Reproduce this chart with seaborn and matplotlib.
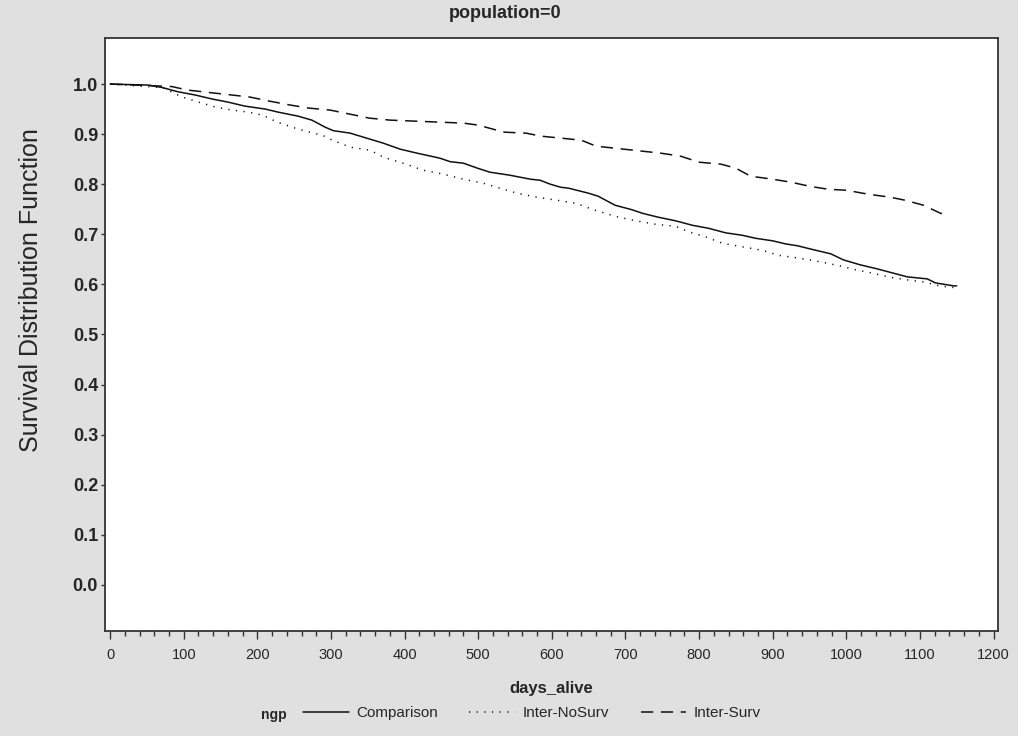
import pandas as pd
import seaborn as sns
import matplotlib.pyplot as plt
from matplotlib.ticker import MultipleLocator

# Survival estimates
comp_days = [0, 52, 71, 91, 116, 139, 160, 183, 211, 228, 255, 274, 292, 303, 326, 353, 371, 394,
             417, 448, 462, 480, 499, 516, 543, 571, 584, 598, 612, 623, 650, 663, 686, 709, 723,
             745, 768, 791, 813, 836, 859, 877, 900, 917, 934, 956, 979, 996, 1019, 1042, 1065,
             1083, 1110, 1121, 1146, 1150]
comp_surv = [1.0, 0.998, 0.993, 0.985, 0.978, 0.970, 0.964, 0.956, 0.950, 0.944, 0.936, 0.928,
             0.914, 0.907, 0.902, 0.890, 0.882, 0.870, 0.862, 0.852, 0.845, 0.842, 0.832, 0.824,
             0.818, 0.810, 0.808, 0.800, 0.794, 0.792, 0.782, 0.776, 0.758, 0.749, 0.742, 0.734,
             0.727, 0.718, 0.712, 0.703, 0.698, 0.692, 0.687, 0.681, 0.677, 0.669, 0.661, 0.649,
             0.639, 0.631, 0.622, 0.615, 0.611, 0.603, 0.597, 0.597]

nosurv_days = [0, 71, 84, 98, 120, 143, 166, 188, 207, 227, 247, 265, 288, 302, 326, 353, 371,
               398, 425, 453, 480, 507, 530, 553, 580, 607, 632, 659, 686, 714, 741, 768, 786,
               809, 832, 859, 886, 908, 938, 965, 988, 1010, 1037, 1060, 1083, 1105, 1124, 1141,
               1150]
nosurv_surv = [1.0, 0.993, 0.984, 0.974, 0.964, 0.954, 0.948, 0.944, 0.938, 0.924, 0.914, 0.906,
               0.898, 0.888, 0.874, 0.868, 0.854, 0.842, 0.828, 0.820, 0.810, 0.802, 0.792, 0.782,
               0.774, 0.768, 0.762, 0.748, 0.736, 0.727, 0.720, 0.716, 0.705, 0.695, 0.682, 0.675,
               0.668, 0.658, 0.652, 0.645, 0.638, 0.630, 0.622, 0.614, 0.609, 0.605, 0.598, 0.594,
               0.594]

surv_days = [0, 84, 105, 166, 190, 216, 245, 270, 299, 352, 380, 480, 500, 535, 565, 585, 640,
             660, 748, 775, 800, 830, 850, 870, 900, 925, 950, 975, 1000, 1030, 1060, 1080, 1105,
             1128, 1135]
surv_surv = [1.0, 0.995, 0.988, 0.978, 0.974, 0.966, 0.958, 0.952, 0.948, 0.932, 0.928, 0.922,
             0.918, 0.904, 0.902, 0.896, 0.888, 0.876, 0.862, 0.856, 0.844, 0.840, 0.832, 0.816,
             0.810, 0.804, 0.796, 0.790, 0.788, 0.780, 0.774, 0.768, 0.758, 0.742, 0.740]

groups = ['Comparison', 'Inter-NoSurv', 'Inter-Surv']

df = pd.concat([
    pd.DataFrame({'days_alive': comp_days, 'survival': comp_surv, 'ngp': groups[0]}),
    pd.DataFrame({'days_alive': nosurv_days, 'survival': nosurv_surv, 'ngp': groups[1]}),
    pd.DataFrame({'days_alive': surv_days, 'survival': surv_surv, 'ngp': groups[2]}),
], ignore_index=True)

sns.set_theme(style='white')
plt.rcParams['font.family'] = ['Liberation Sans', 'DejaVu Sans']

bg = '#e0e0e0'
fig = plt.figure(figsize=(10.18, 7.36), dpi=100, facecolor=bg)
ax = fig.add_axes([0.1031, 0.1427, 0.8772, 0.8057])
ax.set_facecolor('white')

sns.lineplot(data=df, x='days_alive', y='survival', hue='ngp', style='ngp',
             palette={g: '#111111' for g in groups},
             dashes={'Comparison': '', 'Inter-NoSurv': (0.8, 4.2), 'Inter-Surv': (8, 5)},
             estimator=None, sort=False, linewidth=1.1, ax=ax)

ax.set_xlim(-7, 1206)
ax.set_ylim(-0.092, 1.092)
ax.set_yticks([i / 10 for i in range(11)])
ax.set_yticklabels([f'{i / 10:.1f}' for i in range(11)], fontsize=13, fontweight='bold')
ax.set_xticks(range(0, 1201, 100))
ax.set_xticklabels([str(v) for v in range(0, 1201, 100)], fontsize=10.5)
ax.xaxis.set_minor_locator(MultipleLocator(20))
ax.tick_params(axis='x', which='major', direction='out', length=6, width=1, color='#333', pad=6,
               bottom=True)
ax.tick_params(axis='x', which='minor', direction='out', length=3.5, width=1, color='#333',
               bottom=True)
ax.tick_params(axis='y', which='major', direction='out', length=3, width=1, color='#333', pad=2,
               left=True)

for s in ax.spines.values():
    s.set_color('#333333')
    s.set_linewidth(1.3)

ax.set_xlabel('days_alive', fontsize=12, fontweight='bold', labelpad=14)
ax.set_ylabel('Survival Distribution Function', fontsize=18)
ax.yaxis.set_label_coords(-0.069, 0.575)
fig.text(505 / 1018, 1 - 13 / 736, 'population=0', fontsize=13, fontweight='bold',
         ha='center', va='center')

handles, labels = ax.get_legend_handles_labels()
ax.get_legend().remove()
fig.text(261 / 1018, 1 - 715 / 736, 'ngp', fontsize=10, fontweight='bold', va='center')
fig.legend(handles, labels, loc='center left', bbox_to_anchor=(289 / 1018, 1 - 713 / 736),
           ncol=3, frameon=False, fontsize=11, handlelength=3.0, handletextpad=0.5,
           columnspacing=2.05)

fig.savefig('out.png', dpi=100, facecolor=bg)
